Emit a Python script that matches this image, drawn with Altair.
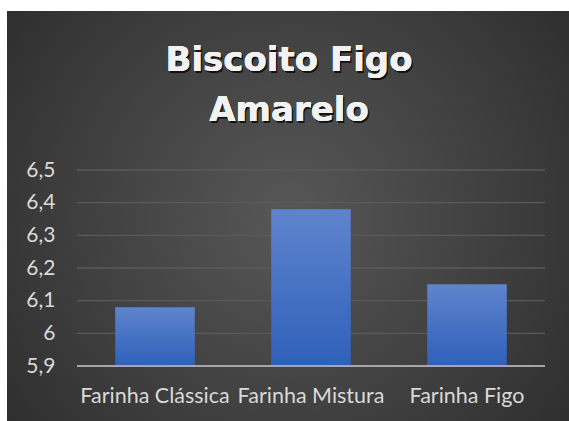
import altair as alt
import pandas as pd

# Chart data
categorias = ["Farinha Clássica", "Farinha Mistura", "Farinha Figo"]
valores = [6.08, 6.38, 6.15]
ticks_y = [5.9, 6.0, 6.1, 6.2, 6.3, 6.4, 6.5]
titulo = ["Biscoito Figo", "Amarelo"]

df = pd.DataFrame({"farinha": categorias, "valor": valores})

W, H = 468, 196
PAD = {"left": 77, "top": 170, "right": 24, "bottom": 55}

# dark radial backdrop behind everything
fundo = alt.Chart(df).mark_rect(
    fill=alt.RadialGradient(
        gradient="radial",
        stops=[alt.GradientStop(color="#575757", offset=0),
               alt.GradientStop(color="#3a3a3a", offset=0.6),
               alt.GradientStop(color="#262626", offset=1)],
        x1=0.5, y1=0.5, r1=0, x2=0.5, y2=0.5, r2=0.75,
    )
).encode(
    x=alt.value(7 - PAD["left"]), x2=alt.value(W + PAD["right"]),
    y=alt.value(11 - PAD["top"]), y2=alt.value(H + PAD["bottom"]),
)

y_scale = alt.Scale(domain=[5.9, 6.5], zero=False, nice=False)
y_axis = alt.Axis(title=None, values=ticks_y, format=",.1~f", orient="left",
                  ticks=False, domain=False, grid=False,
                  labelColor="#d9d9d9", labelFont="Lato",
                  labelFontSize=21, labelPadding=22, zindex=1)
x_enc = alt.X("farinha:N", sort=categorias,
              scale=alt.Scale(paddingInner=0.49, paddingOuter=0.245),
              axis=alt.Axis(title=None, labelAngle=0, ticks=False, domain=False,
                            labelColor="#d9d9d9", labelFont="Lato",
                            labelFontSize=21.5, labelPadding=19,
                            labelLimit=300, labelOverlap=False, zindex=1))

grade = alt.Chart(pd.DataFrame({"t": ticks_y[1:]})).mark_rule(
    color="#5a5a5a", strokeWidth=1.3
).encode(y=alt.Y("t:Q", scale=y_scale, axis=y_axis))

barras = alt.Chart(df).mark_bar(
    fill=alt.LinearGradient(
        gradient="linear",
        stops=[alt.GradientStop(color="#5f84cd", offset=0),
               alt.GradientStop(color="#2f60b9", offset=1)],
        x1=0, y1=0, x2=0, y2=1,
    )
).encode(
    x=x_enc,
    y=alt.Y("valor:Q", scale=y_scale, axis=y_axis),
    y2=alt.datum(5.9),
)

base = alt.Chart(pd.DataFrame({"t": [5.9]})).mark_rule(
    color="#a6a6a6", strokeWidth=2
).encode(y=alt.Y("t:Q", scale=y_scale, axis=y_axis))


def linha_titulo(txt, ybase):
    estilo = dict(font="DejaVu Sans", fontWeight="bold", fontSize=34,
                  align="center", baseline="alphabetic")
    sombra = alt.Chart(df).mark_text(color="#000000", opacity=0.35,
                                     dx=1.5, dy=1.5, **estilo).encode(
        x=alt.value(289 - PAD["left"]), y=alt.value(ybase - PAD["top"]),
        text=alt.value(txt))
    frente = alt.Chart(df).mark_text(color="#f2f2f2", **estilo).encode(
        x=alt.value(289 - PAD["left"]), y=alt.value(ybase - PAD["top"]),
        text=alt.value(txt))
    return [sombra, frente]


camadas = [fundo, grade, barras, base]
camadas += linha_titulo(titulo[0], 71)
camadas += linha_titulo(titulo[1], 121)

chart = alt.layer(*camadas).properties(
    width=W, height=H,
    padding=PAD,
    autosize=alt.AutoSizeParams(type="none"),
    background="#ffffff",
).configure_view(stroke=None)

chart.save("out.html", embed_options={"renderer": "svg", "actions": False,
                                      "formatLocale": {"decimal": ",", "thousands": ".",
                                                       "grouping": [3], "currency": ["R$", ""]}})
